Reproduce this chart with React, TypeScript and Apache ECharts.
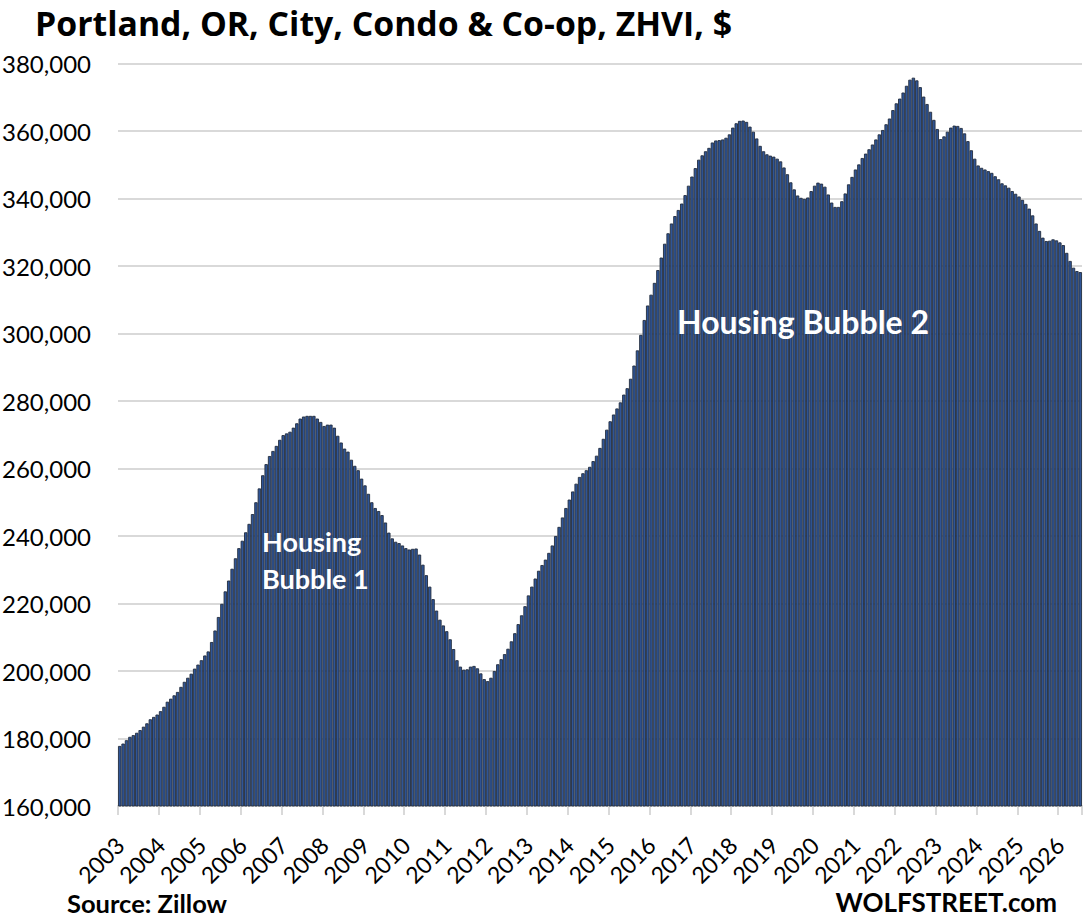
import React, { useEffect, useRef } from "react";
import * as echarts from "echarts";

const chartTitle = "Portland, OR, City, Condo & Co-op, ZHVI, $";
const sourceText = "Source: Zillow";
const brandText = "WOLFSTREET.com";
const bubble1Text = "Housing\nBubble 1";
const bubble2Text = "Housing Bubble 2";

const startYear = 2003;
// Monthly ZHVI values in thousands of dollars, Jan 2003 .. Jul 2026 (one row per year)
const valuesK: number[] = [
  177.8, 178.5, 179.5, 180.5, 181.0, 181.7, 182.5, 183.5, 184.5, 185.7, 186.4, 187.1,
  188.1, 189.4, 190.9, 191.8, 192.8, 193.8, 195.3, 196.8, 198.0, 199.2, 200.7, 201.9,
  203.2, 204.6, 205.8, 208.6, 212.0, 216.0, 219.9, 223.6, 226.8, 230.3, 233.4, 236.4,
  238.6, 241.1, 243.6, 246.5, 250.0, 254.1, 258.0, 261.3, 263.7, 265.2, 266.7, 268.5,
  269.9, 270.4, 270.9, 272.1, 273.4, 274.8, 275.4, 275.6, 275.6, 275.6, 274.8, 273.8,
  272.6, 273.0, 273.0, 272.1, 269.7, 267.7, 265.9, 265.0, 262.6, 260.8, 259.5, 257.0,
  255.0, 252.5, 250.0, 248.3, 247.4, 246.2, 244.0, 241.0, 239.3, 238.3, 237.9, 237.2,
  236.4, 236.0, 236.2, 236.3, 234.5, 231.5, 228.4, 225.0, 221.3, 217.9, 215.2, 213.5,
  211.8, 209.4, 206.5, 203.2, 201.3, 200.4, 200.5, 201.3, 201.5, 200.8, 199.3, 197.6,
  197.0, 198.0, 200.0, 202.0, 203.5, 205.0, 206.6, 208.8, 211.2, 213.9, 216.5, 219.2,
  222.4, 225.0, 227.4, 229.7, 231.4, 233.0, 235.0, 237.2, 240.0, 242.7, 245.5, 248.3,
  250.8, 253.2, 255.5, 257.5, 258.6, 259.5, 260.5, 262.2, 263.8, 266.1, 268.8, 271.5,
  274.0, 276.0, 277.8, 279.6, 281.9, 283.8, 286.6, 290.5, 295.0, 299.6, 304.0, 308.3,
  311.5, 315.0, 318.8, 322.5, 326.6, 329.7, 332.6, 334.8, 336.6, 338.5, 341.0, 343.8,
  346.5, 349.0, 351.5, 352.8, 354.0, 355.0, 356.6, 357.2, 357.3, 357.5, 358.0, 359.0,
  361.0, 362.3, 363.0, 363.1, 362.7, 361.3, 359.8, 357.8, 355.6, 354.0, 353.1, 352.7,
  352.4, 351.8, 351.0, 349.2, 347.2, 344.8, 342.7, 340.9, 340.2, 339.9, 340.3, 342.2,
  343.8, 344.7, 344.4, 343.5, 341.2, 338.8, 337.5, 337.5, 339.2, 341.5, 344.2, 346.4,
  348.6, 350.1, 352.0, 353.3, 354.6, 356.0, 357.5, 359.0, 360.3, 362.0, 363.7, 366.2,
  368.2, 369.6, 371.4, 373.4, 375.2, 375.8, 375.0, 373.0, 370.2, 368.0, 365.7, 363.3,
  360.6, 357.6, 358.4, 359.8, 361.0, 361.6, 361.5, 360.9, 359.3, 357.0, 354.3, 351.8,
  349.8, 349.1, 348.6, 348.1, 347.6, 346.6, 345.7, 344.5, 343.9, 343.2, 342.2, 341.4,
  340.6, 339.6, 338.4, 337.0, 335.0, 332.6, 330.4, 328.4, 327.4, 327.5, 327.9, 327.6,
  327.0, 326.2, 323.9, 321.5, 319.5, 318.5, 318.2,
];

const values = valuesK.map((v) => Math.round(v * 1000));
const months = valuesK.map(
  (_, i) => `${startYear + Math.floor(i / 12)}-${String((i % 12) + 1).padStart(2, "0")}`
);

const yMin = 160000;
const yMax = 380000;
const yStep = 20000;

const FONT = "Lato";

export default function App() {
  const ref = useRef<HTMLDivElement>(null);

  useEffect(() => {
    if (!ref.current) return;
    const chart = echarts.init(ref.current, undefined, { renderer: "svg" });
    const isJan = (idx: number) => idx % 12 === 0;
    chart.setOption({
      animation: false,
      backgroundColor: "#ffffff",
      grid: { left: 118, right: 8, top: 63.5, bottom: 115, containLabel: false, outerBoundsMode: "none" },
      xAxis: {
        type: "category",
        data: months,
        boundaryGap: true,
        axisLine: { show: true, lineStyle: { color: "#d9d9d9", width: 2 } },
        axisTick: {
          show: true,
          interval: (idx: number) => isJan(idx),
          length: 9,
          lineStyle: { color: "#d9d9d9", width: 2 },
        },
        axisLabel: {
          interval: (idx: number) => isJan(idx),
          formatter: (v: string) => v.slice(0, 4),
          rotate: 45,
          margin: 35,
          fontFamily: FONT,
          fontSize: 23,
          color: "#000",
        },
        splitLine: { show: false },
      },
      yAxis: {
        type: "value",
        min: yMin,
        max: yMax,
        interval: yStep,
        axisLine: { show: false },
        axisTick: { show: false },
        axisLabel: {
          margin: 27,
          fontFamily: FONT,
          fontSize: 24,
          color: "#000",
          formatter: (v: number) => v.toLocaleString("en-US"),
        },
        splitLine: { show: true, lineStyle: { color: "#d9d9d9", width: 2 } },
      },
      series: [
        {
          type: "bar",
          data: values,
          barCategoryGap: "0%",
          z: 2,
          itemStyle: {
            color: "#2f5597",
            borderColor: "#222c3d",
            borderWidth: 0.9,
          },
        },
      ],
      graphic: [
        {
          type: "text",
          left: 35,
          top: 6,
          z: 100,
          style: {
            text: chartTitle,
            font: `bold 33.8px "Open Sans"`,
            fill: "#000",
          },
        },
        {
          type: "text",
          left: 262,
          top: 523,
          z: 100,
          style: {
            text: bubble1Text,
            font: `bold 27px ${FONT}`,
            lineHeight: 37,
            fill: "#ffffff",
          },
        },
        {
          type: "text",
          left: 677,
          top: 305,
          z: 100,
          style: {
            text: bubble2Text,
            font: `bold 32px ${FONT}`,
            fill: "#ffffff",
          },
        },
        {
          type: "text",
          left: 67,
          top: 890,
          z: 100,
          style: {
            text: sourceText,
            font: `bold 25.5px ${FONT}`,
            fill: "#000",
          },
        },
        {
          type: "text",
          right: 33,
          top: 889,
          z: 100,
          style: {
            text: brandText,
            font: `bold 26px ${FONT}`,
            fill: "#000",
          },
        },
      ],
    });
    return () => chart.dispose();
  }, []);

  return (
    <div
      ref={ref}
      style={{ position: "fixed", left: 0, top: 0, width: 1090, height: 921, background: "#fff" }}
    />
  );
}
